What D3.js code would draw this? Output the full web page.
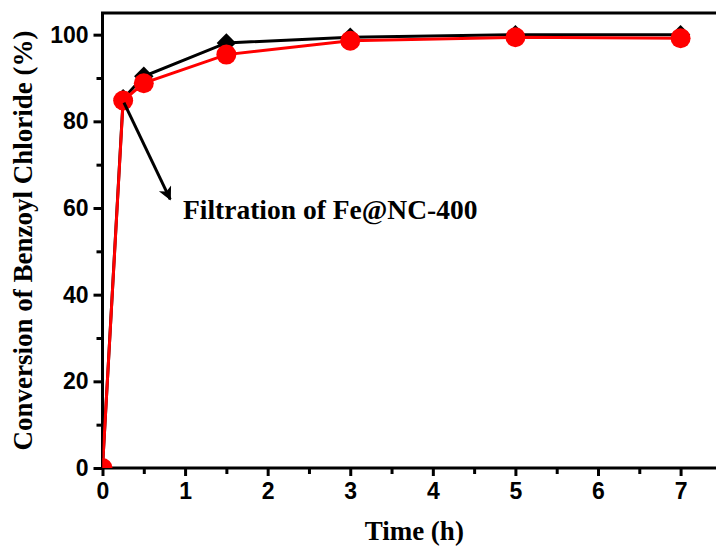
<!DOCTYPE html>
<html>
<head>
<meta charset="utf-8">
<script src="https://cdn.jsdelivr.net/npm/d3@7"></script>
<style>
  html, body { margin: 0; padding: 0; background: #fff; overflow: hidden; }
  svg { display: block; }
  .tick text { font-family: "Liberation Sans", Arial, sans-serif; font-weight: bold; font-size: 23px; fill: #000; }
</style>
</head>
<body>
<div id="chart"></div>
<script>
// data
const timeH = [0, 0.25, 0.5, 1.5, 3, 5, 7];
const blackConv = [0, 85.2, 90.4, 98.1, 99.4, 100, 100];
const redConv = [0, 84.8, 88.8, 95.4, 98.6, 99.4, 99.2];
const xTicks = [0, 1, 2, 3, 4, 5, 6, 7];
const xMinor = [0.5, 1.5, 2.5, 3.5, 4.5, 5.5, 6.5];
const yTicks = [0, 20, 40, 60, 80, 100];
const yMinor = [10, 30, 50, 70, 90];
// annotation: arrow from/to (time, conversion) and label anchor
const arrowFrom = [0.26, 84.3];
const arrowTo = [0.82, 62.0];
const noteAt = [0.975, 57.5];
const noteText = 'Filtration of Fe@NC-400';

const width = 716, height = 548;
const margin = { left: 102.5, top: 13, right: -10, bottom: 80 };
const xMax = 7.55, yMax = 105;

const svg = d3.select('#chart').append('svg')
  .attr('width', width)
  .attr('height', height);

const x = d3.scaleLinear().domain([0, xMax]).range([margin.left, width - margin.right]);
const y = d3.scaleLinear().domain([0, yMax]).range([height - margin.bottom, margin.top]);

// clip for markers
svg.append('defs').append('clipPath').attr('id', 'plot')
  .append('rect')
  .attr('x', x(0)).attr('y', y(yMax))
  .attr('width', x(xMax) - x(0)).attr('height', y(0) - y(yMax));

// minor ticks
svg.append('g')
  .attr('transform', `translate(0,${y(0)})`)
  .call(d3.axisBottom(x).tickValues(xMinor).tickSize(6).tickSizeOuter(0).tickFormat(''))
  .call(g => g.select('.domain').remove())
  .call(g => g.selectAll('line').attr('stroke-width', 3));
svg.append('g')
  .attr('transform', `translate(${x(0)},0)`)
  .call(d3.axisLeft(y).tickValues(yMinor).tickSize(6).tickSizeOuter(0).tickFormat(''))
  .call(g => g.select('.domain').remove())
  .call(g => g.selectAll('line').attr('stroke-width', 3));

// major ticks
svg.append('g')
  .attr('transform', `translate(0,${y(0)})`)
  .call(d3.axisBottom(x).tickValues(xTicks).tickSize(8).tickSizeOuter(0).tickPadding(7))
  .call(g => g.select('.domain').remove())
  .call(g => g.selectAll('line').attr('stroke-width', 3));
svg.append('g')
  .attr('transform', `translate(${x(0)},0)`)
  .call(d3.axisLeft(y).tickValues(yTicks).tickSize(9).tickSizeOuter(0).tickPadding(5))
  .call(g => g.select('.domain').remove())
  .call(g => g.selectAll('line').attr('stroke-width', 3));

// frame: top, left and bottom (right side runs past the page edge)
svg.append('path')
  .attr('d', `M${x(xMax) + 20},${y(yMax)} H${x(0)} V${y(0)} H${x(xMax) + 20}`)
  .attr('fill', 'none')
  .attr('stroke', '#000')
  .attr('stroke-width', 3);

const line = d3.line().x((d, i) => x(timeH[i])).y(d => y(d));
const plot = svg.append('g').attr('clip-path', 'url(#plot)');

// black series with diamonds
plot.append('path')
  .datum(blackConv)
  .attr('d', line)
  .attr('fill', 'none')
  .attr('stroke', '#000')
  .attr('stroke-width', 3);
plot.selectAll('.dia')
  .data(blackConv)
  .enter().append('path')
  .attr('class', 'dia')
  .attr('d', d3.symbol(d3.symbolDiamond2, 240)())
  .attr('transform', (d, i) => `translate(${x(timeH[i])},${y(d)})`)
  .attr('fill', '#000');

// red series with circles
plot.append('path')
  .datum(redConv)
  .attr('d', line)
  .attr('fill', 'none')
  .attr('stroke', '#ff0000')
  .attr('stroke-width', 3);
plot.selectAll('.dot')
  .data(redConv)
  .enter().append('circle')
  .attr('class', 'dot')
  .attr('cx', (d, i) => x(timeH[i]))
  .attr('cy', d => y(d))
  .attr('r', 10)
  .attr('fill', '#ff0000');

// arrow annotation
svg.append('defs').append('marker')
  .attr('id', 'head')
  .attr('viewBox', '0 0 10 10')
  .attr('refX', 9).attr('refY', 5)
  .attr('markerWidth', 6).attr('markerHeight', 4.5)
  .attr('markerUnits', 'strokeWidth')
  .attr('orient', 'auto')
  .append('path')
  .attr('d', 'M0,0 L10,5 L0,10 L2.5,5 Z')
  .attr('fill', '#000');
svg.append('line')
  .attr('x1', x(arrowFrom[0])).attr('y1', y(arrowFrom[1]))
  .attr('x2', x(arrowTo[0])).attr('y2', y(arrowTo[1]))
  .attr('stroke', '#000')
  .attr('stroke-width', 3)
  .attr('marker-end', 'url(#head)');

svg.append('text')
  .attr('x', x(noteAt[0])).attr('y', y(noteAt[1]))
  .attr('font-family', '"Liberation Serif", "Times New Roman", serif')
  .attr('font-weight', 'bold')
  .attr('font-size', 27.5)
  .text(noteText);

// axis titles
svg.append('text')
  .attr('x', (x(0) + x(xMax)) / 2).attr('y', 540)
  .attr('text-anchor', 'middle')
  .attr('font-family', '"Liberation Serif", "Times New Roman", serif')
  .attr('font-weight', 'bold')
  .attr('font-size', 27)
  .text('Time (h)');

svg.append('text')
  .attr('transform', `translate(32,${(y(0) + y(yMax)) / 2}) rotate(-90)`)
  .attr('text-anchor', 'middle')
  .attr('font-family', '"Liberation Serif", "Times New Roman", serif')
  .attr('font-weight', 'bold')
  .attr('font-size', 27)
  .text('Conversion of Benzoyl Chloride (%)');
</script>
</body>
</html>
